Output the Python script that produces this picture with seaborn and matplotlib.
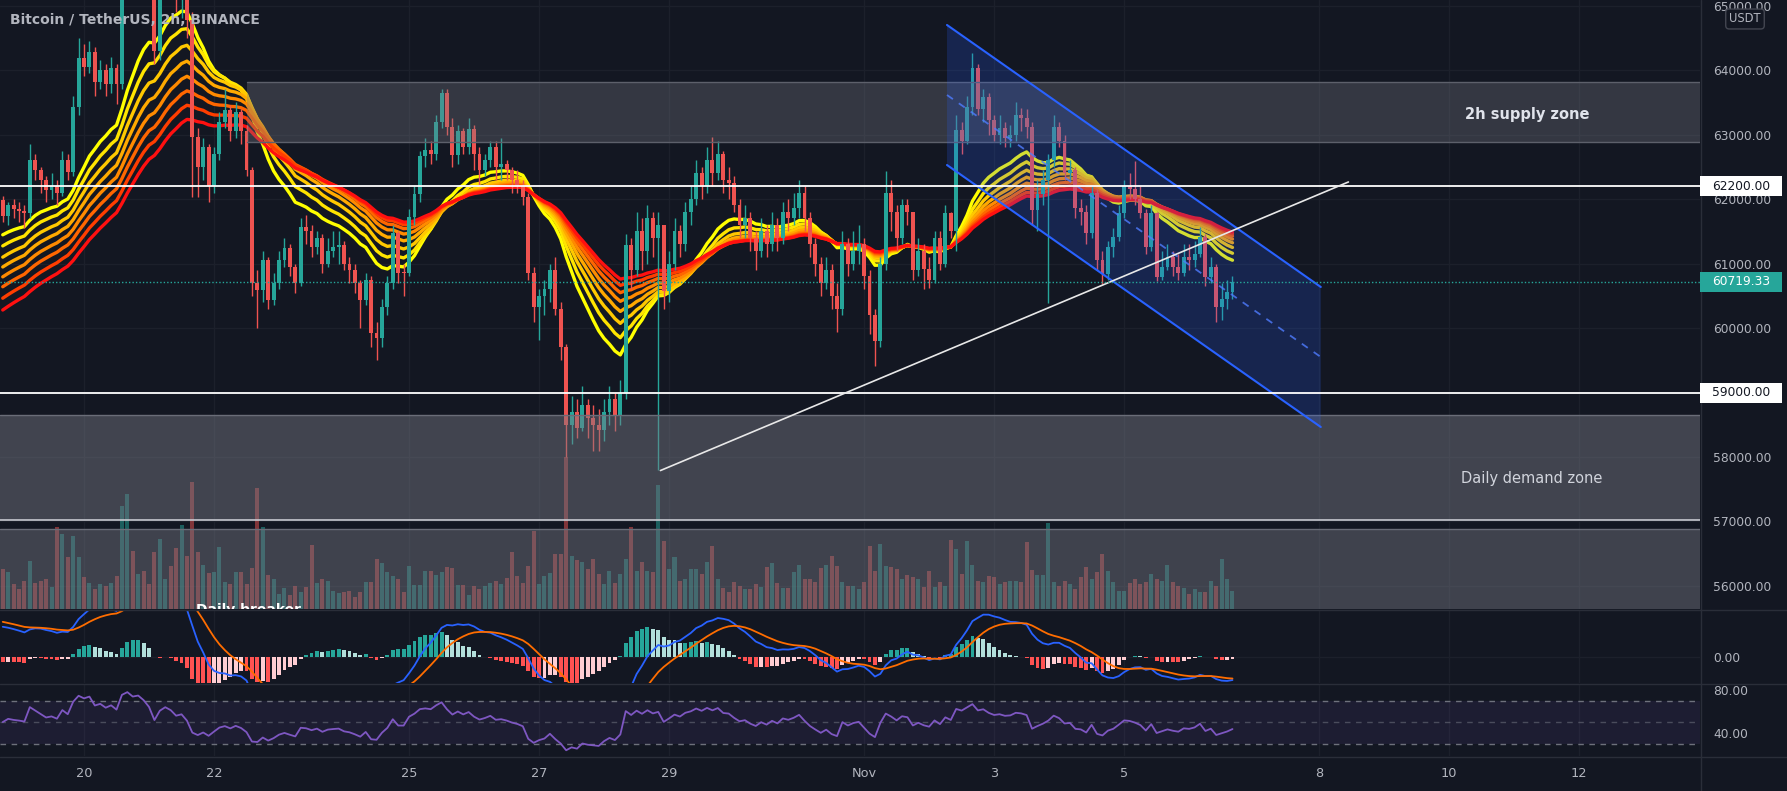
import numpy as np
import pandas as pd
import matplotlib
matplotlib.use("Agg")
import matplotlib.pyplot as plt
import matplotlib.transforms as mtransforms
from matplotlib.patches import Rectangle, Polygon
from matplotlib.lines import Line2D
import seaborn as sns

# ---------------- data (BTCUSDT 2h candles) ----------------
bar_start = "2021-10-18 18:00"
first_open = 61980
closes = [61730, 61900, 61850, 61820, 61780, 62600, 62450, 62300, 62140, 62200, 62100, 62600, 62420, 63430, 64180,
          64050, 64285, 63820, 64000, 63790, 64025, 63790, 65800, 66400, 66100, 66300, 65990,
          65500, 64300, 65600, 66200, 65900, 65300, 65500, 64775, 62965, 62500, 62810, 62200,
          62700, 63200, 63380, 63050, 63350, 63050, 62450, 60690, 60590, 61055, 60435, 60690,
          61055, 61235, 60950, 60690, 61570, 61500, 61250, 61400, 61000, 61200, 61250, 61286,
          61000, 60900, 60690, 60435, 60745, 59920, 59850, 60330, 60700, 61470, 60855, 60852,
          61725, 62085, 62660, 62760, 62700, 63200, 63640, 63120, 62685, 63050, 62810, 63078,
          62700, 62450, 62600, 62810, 62500, 62550, 62450, 62300, 62200, 62035, 60855, 60330,
          60500, 60600, 60900, 60300, 59700, 58500, 58700, 58450, 58800, 58600, 58500, 58413,
          58700, 58900, 58650, 59000, 61280, 60900, 61500, 61200, 61700, 61400, 61600, 60575,
          61000, 61500, 61300, 61800, 62000, 62400, 62200, 62600, 62400, 62700, 62300, 62253,
          61900, 61600, 61700, 61400, 61200, 61500, 61300, 61600, 61400, 61800, 61700, 61859,
          62100, 61700, 61300, 61000, 60700, 60900, 60500, 60300, 61300, 61000, 61200, 61299,
          60800, 60200, 59800, 61000, 62100, 61800, 61400, 61900, 61800, 60900, 61200, 60911,
          60750, 61400, 61000, 61780, 61500, 63070, 62900, 63430, 64030, 63400, 63580, 63219,
          63000, 63100, 62950, 63000, 63300, 63250, 63120, 61830, 62080, 62300, 62600, 63120,
          62900, 62400, 62450, 61860, 61800, 61470, 62100, 61050, 60840, 61250, 61410, 61780,
          62200, 62150, 62000, 61780, 61250, 61780, 60790, 60950, 61100, 60950, 60850, 61100,
          61050, 61150, 61410, 60790, 60950, 60330, 60450, 60560, 60719.33]
highs = [62050, 61950, 62000, 61950, 61900, 62860, 62700, 62500, 62350, 62400, 62300, 62750, 62700, 63600, 64500,
         64400, 64450, 64350, 64150, 64100, 64200, 64100, 66300, 67000, 66600, 66700, 66500,
         66300, 65700, 65900, 66500, 66639, 66100, 65900, 65700, 64900, 63100, 62950, 62850,
         62800, 63350, 63700, 63450, 63500, 63400, 63150, 62500, 60900, 61200, 61100, 60850,
         61200, 61400, 61300, 61000, 61700, 61750, 61600, 61500, 61450, 61400, 61500, 61500,
         61350, 61100, 61000, 60750, 60850, 60800, 60100, 60450, 60800, 61600, 61500, 61000,
         61850, 62200, 62750, 62950, 62900, 63300, 63710, 63700, 63250, 63150, 63100, 63250,
         63150, 62800, 62700, 62900, 62900, 62950, 62600, 62500, 62450, 62300, 62100, 60950,
         60600, 60750, 61000, 61100, 60400, 59750, 58950, 58900, 59100, 58900, 58800, 58750,
         58900, 59100, 59000, 59200, 61450, 61400, 61800, 61700, 61900, 61800, 61800, 61600,
         61200, 61700, 61600, 61950, 62200, 62600, 62500, 62800, 62963, 62900, 62750, 62500,
         62359, 62000, 61900, 61800, 61500, 61700, 61600, 61800, 61700, 61950, 62000, 62100,
         62300, 62200, 61800, 61400, 61100, 61100, 61000, 60700, 61500, 61400, 61500, 61600,
         61400, 60900, 60300, 61100, 62437, 62300, 61900, 62000, 62000, 61800, 61400, 61300,
         61100, 61500, 61500, 61900, 61800, 63300, 63200, 63600, 64270, 64100, 63700, 63650,
         63300, 63300, 63200, 63150, 63500, 63410, 63400, 63200, 62300, 62450, 62700, 63300,
         63200, 63000, 62600, 62500, 62000, 61900, 62200, 62150, 61200, 61350, 61550, 61900,
         62300, 62400, 62595, 62200, 61850, 61900, 61800, 61200, 61300, 61200, 61150, 61300,
         61300, 61350, 61560, 61450, 61100, 61000, 60700, 60750, 60800]
lows = [61650, 61600, 61700, 61650, 61550, 61700, 62300, 62100, 61950, 62000, 61900, 62050, 62300, 62350, 63300,
        63900, 63950, 63600, 63700, 63600, 63650, 63480, 63700, 65600, 65700, 65900, 65600,
        65100, 64100, 64150, 65400, 65500, 64900, 64800, 64500, 62035, 62030, 62300, 61950,
        62100, 62600, 63100, 62900, 62950, 62850, 62350, 60500, 60000, 60400, 60300, 60350,
        60600, 60950, 60800, 60550, 60650, 61300, 61100, 61150, 60850, 60950, 61100, 61000,
        60900, 60700, 60550, 60000, 60350, 59700, 59510, 59700, 60200, 60600, 60700, 60500,
        60800, 61600, 61950, 62500, 62550, 62600, 63100, 63000, 62500, 62550, 62700, 62700,
        62450, 62200, 62350, 62500, 62300, 62300, 62300, 62100, 62100, 61900, 60750, 60100,
        59817, 60200, 60400, 60200, 59500, 58000, 58200, 58300, 58400, 58300, 58100, 58100,
        58250, 58500, 58400, 58500, 58900, 60600, 60800, 60900, 61000, 61100, 57800, 60300,
        60400, 60900, 61100, 61200, 61600, 61900, 62000, 62100, 62200, 62300, 62100, 62000,
        61800, 61400, 61400, 61200, 60900, 61100, 61100, 61200, 61200, 61300, 61500, 61600,
        61700, 61500, 61100, 60800, 60500, 60600, 60300, 59945, 60200, 60800, 60900, 61000,
        60600, 59900, 59405, 59700, 60900, 61500, 61200, 61300, 61600, 60750, 60800, 60600,
        60624, 60700, 60900, 60950, 61400, 61200, 62700, 62850, 63300, 63300, 63200, 63000,
        62900, 62850, 62800, 62800, 62900, 63050, 62950, 61600, 61500, 61900, 60382, 62500,
        62800, 62300, 62300, 61700, 61600, 61300, 61400, 60900, 60677, 60750, 61100, 61350,
        61700, 62000, 61900, 61700, 61150, 61200, 60721, 60750, 60900, 60800, 60750, 60800,
        60900, 60950, 61100, 60650, 60700, 60100, 60126, 60300, 60450]
volumes = [4800, 4400, 3000, 2400, 3400, 5800, 3120, 3400, 3600, 2600,
           9800, 9000, 6200, 8720, 6200, 3880, 3120, 2400, 3000, 2800,
           3120, 4000, 12400, 13800, 6920, 4200, 4520, 3000, 6800, 8400,
           3600, 5200, 7320, 10080, 6400, 15200, 6800, 5280, 4320, 4400,
           7400, 3200, 3000, 4400, 4400, 2960, 4920, 14480, 9800, 4120,
           3600, 1800, 2520, 1680, 2800, 2000, 2600, 7680, 3080, 3600,
           3320, 2200, 1880, 2000, 2120, 1400, 2000, 3200, 3200,
           6000, 5520, 4400, 4000, 3600, 2000, 5200, 2920, 2920, 4520,
           4520, 4120, 4400, 5000, 4880, 2920, 2920, 1680, 2800, 2400,
           2800, 3120, 3320, 2960, 3680, 6800, 4000, 3120, 5200, 9400,
           3000, 4000, 4320, 6600, 6600, 18200, 6400, 5920, 5600, 4800,
           6000, 4200, 3000, 4600, 3120, 4200, 6000, 9800, 4600, 5600,
           4600, 4400, 14880, 8120, 4800, 6200, 3400, 3600, 4800, 4800,
           4200, 5600, 7600, 3600, 2480, 2080, 3200, 2800, 2400, 2400,
           3000, 2600, 5000, 5520, 3120, 2480, 2480, 4400, 5320, 3600,
           3600, 3200, 4920, 5320, 6400, 5200, 3280, 2720, 2720, 2400,
           3200, 7600, 4600, 7800, 5200, 5000, 4800, 3600, 4080, 3880,
           3600, 2600, 4600, 2600, 3200, 2800, 8320, 7200, 4200, 8200,
           5280, 3400, 3280, 4000, 3880, 3000, 3280, 3400, 3400, 3280,
           8000, 4720, 4080, 4080, 10320, 3280, 2800, 3400, 3000, 2400,
           3800, 5000, 3600, 4400, 6600, 4600, 3280, 2200, 2200, 3080,
           3600, 3000, 3200, 4200, 3600, 3320, 5280, 3200, 2800, 2520,
           1800, 2400, 2000, 2080, 3400, 2800, 6000, 3600, 2200]

ribbon_periods = [20, 25, 30, 35, 40, 45, 50, 55]
ribbon_seed = [61415, 61235, 61055, 60900, 60745, 60590, 60410, 60225]
ribbon_colors = ['#ffff00', '#ffe400', '#ffc800', '#ffaa00', '#ff8a00', '#ff6600', '#ff3d00', '#ff1010']
macd_seed_fast, macd_seed_slow, macd_seed_signal = 61660, 61200, 520
rsi_seed_gain, rsi_seed_loss = 110.0, 90.0

price_ticks = [56000, 57000, 58000, 59000, 60000, 61000, 62000, 63000, 64000, 65000]
date_ticks = ['2021-10-20', '2021-10-22', '2021-10-25', '2021-10-27', '2021-10-29', '2021-11-01',
              '2021-11-03', '2021-11-05', '2021-11-08', '2021-11-10', '2021-11-12']
date_labels = ['20', '22', '25', '27', '29', 'Nov', '3', '5', '8', '10', '12']

levels = [62200, 59000]
last_price = 60719.33
supply_zone = (45.1, 62880, 63820)          # start bar, bottom, top
demand_zone = (57020, 58650)
breaker_top = 56880
channel_x = (174.3, 243.3)
channel_upper = (64698, 60636)
channel_lower = (62527, 58465)
trend_x = (121.4, 248.4)
trend_y = (57790, 62264)

# ---------------- style ----------------
BG = '#131722'
GRID = '#1c202b'
TXT = '#b2b5be'
UP = '#26a69a'
DN = '#ef5350'
sns.set_theme(style="dark", rc={"axes.facecolor": BG, "figure.facecolor": BG})
plt.rcParams['font.family'] = ['DejaVu Sans']

n = len(closes)
assert len(highs) == n and len(lows) == n and len(volumes) == n
x = np.arange(n)
opens = np.array([first_open] + closes[:-1], dtype=float)
c = np.array(closes, dtype=float)
h = np.array(highs, dtype=float)
l = np.array(lows, dtype=float)
v = np.array(volumes, dtype=float)
up = c >= opens

def ema(vals, period, seed):
    a = 2.0 / (period + 1)
    out, e = [], seed
    for val in vals:
        e = e + a * (val - e)
        out.append(e)
    return np.array(out)

W, H = 1787, 791
fig = plt.figure(figsize=(W / 100, H / 100), dpi=100)
fig.patch.set_facecolor(BG)

def panel(top, bottom):
    a = fig.add_axes([0, 1 - bottom / H, 1700 / W, (bottom - top) / H])
    a.set_facecolor(BG)
    for s in a.spines.values():
        s.set_visible(False)
    return a

ax = panel(0, 609)
axm = panel(610, 683)
axr = panel(684, 756)

t0 = pd.Timestamp(bar_start)
date_pos = [(pd.Timestamp(d) - t0) / pd.Timedelta(hours=2) for d in date_ticks]
XL = (-0.508, 313.3)
for a in (ax, axm, axr):
    a.set_xlim(*XL)
    a.set_xticks(date_pos)
    a.grid(True, axis='x', color=GRID, lw=1)
    a.tick_params(axis='x', length=0, labelbottom=False)
    a.yaxis.tick_right()
    a.tick_params(axis='y', length=0, pad=9.4, labelsize=8.8, labelcolor=TXT)

# ---------------- main panel ----------------
ax.set_ylim(55643.4, 65085.3)
ax.set_yticks(price_ticks)
ax.set_yticklabels([f'{p:.2f}' for p in price_ticks])
ax.grid(True, axis='y', color=GRID, lw=1)

blend = mtransforms.blended_transform_factory(ax.transData, ax.transAxes)
vol_cols = np.where(up, UP, DN)
ax.bar(x, v / 73080.0, bottom=0, width=0.74, color=vol_cols, alpha=0.5, transform=blend,
       zorder=1, edgecolor='none', linewidth=0)

for per, seed, col in zip(ribbon_periods, ribbon_seed, ribbon_colors):
    sns.lineplot(x=x, y=ema(c, per, seed), ax=ax, color=col, lw=2.4, zorder=2, legend=False)

cols = np.where(up, UP, DN)
ax.vlines(x, l, h, colors=cols, lw=1, zorder=3)
body_b = np.minimum(opens, c)
body_h = np.maximum(np.abs(c - opens), 12)
ax.bar(x, body_h, bottom=body_b, width=0.72, color=cols, zorder=3.1, edgecolor='none', linewidth=0)

# zones
ax.add_patch(Rectangle((supply_zone[0], supply_zone[1]), 400, supply_zone[2] - supply_zone[1],
                       fc='#787b86', alpha=0.33, ec='none', zorder=4))
for yy in supply_zone[1:]:
    ax.plot([supply_zone[0], 400], [yy, yy], color='#5d606b', lw=1, zorder=4.1)
ax.add_patch(Rectangle((-5, demand_zone[0]), 400, demand_zone[1] - demand_zone[0],
                       fc='#787b86', alpha=0.46, ec='none', zorder=4))
ax.axhline(demand_zone[1], color='#6a6d78', lw=1, zorder=4.1)
ax.axhline(demand_zone[0], color='#c7c9d0', lw=1.2, zorder=4.1)
ax.add_patch(Rectangle((-5, 50000), 400, breaker_top - 50000,
                       fc='#787b86', alpha=0.44, ec='none', zorder=4))
ax.axhline(breaker_top, color='#6a6d78', lw=1, zorder=4.1)

# channel
poly = Polygon([(channel_x[0], channel_upper[0]), (channel_x[1], channel_upper[1]),
                (channel_x[1], channel_lower[1]), (channel_x[0], channel_lower[0])],
               closed=True, fc='#2962ff', alpha=0.2, ec='none', zorder=4.5)
ax.add_patch(poly)
ax.plot(channel_x, channel_upper, color='#2962ff', lw=1.5, zorder=6)
ax.plot(channel_x, channel_lower, color='#2962ff', lw=1.5, zorder=6)
mid = [(channel_upper[0] + channel_lower[0]) / 2, (channel_upper[1] + channel_lower[1]) / 2]
ax.plot(channel_x, mid, color='#4f7cff', lw=1.3, ls=(0, (4, 4)), alpha=0.8, zorder=6)

# lines
for lv in levels:
    ax.axhline(lv, color='white', lw=1.3, zorder=6)
ax.plot(trend_x, trend_y, color='#e8e8e8', lw=1.2, zorder=6)
ax.axhline(last_price, color=UP, lw=1, ls=(0, (1, 1.5)), zorder=6)

ax.text(281.4, 63310, '2h supply zone', color='#e0e3eb', fontsize=10.5, fontweight='bold',
        ha='center', va='center', zorder=8)
ax.text(282.3, 57660, 'Daily demand zone', color='#d1d4dc', fontsize=10.5,
        ha='center', va='center', zorder=8)
ax.text(45.3, 55736, 'Daily breaker', color='white', fontsize=10, fontweight='bold',
        ha='center', va='top', zorder=8, clip_on=True)

# ---------------- MACD panel ----------------
fast = ema(c, 12, macd_seed_fast)
slow = ema(c, 26, macd_seed_slow)
macd = fast - slow
signal = ema(macd, 9, macd_seed_signal)
hist = macd - signal
prev = np.concatenate([[macd_seed_fast - macd_seed_slow - macd_seed_signal], hist[:-1]])
hcols = np.where(hist >= 0, np.where(hist > prev, '#26a69a', '#b2dfdb'),
                 np.where(hist < prev, '#ff5252', '#ffcdd2'))
axm.set_ylim(-371, 671)
axm.bar(x, hist, width=0.72, color=hcols, zorder=2, edgecolor='none', linewidth=0)
sns.lineplot(x=x, y=macd, ax=axm, color='#2962ff', lw=1.3, zorder=3, legend=False)
sns.lineplot(x=x, y=signal, ax=axm, color='#ff6d00', lw=1.3, zorder=3, legend=False)
axm.set_yticks([0])
axm.set_yticklabels(['0.00'])
axm.grid(True, axis='y', color=GRID, lw=1)

# ---------------- RSI panel ----------------
ag, al = rsi_seed_gain, rsi_seed_loss
rsi = []
prevc = first_open
for val in c:
    d = val - prevc
    ag = (ag * 13 + max(d, 0)) / 14
    al = (al * 13 + max(-d, 0)) / 14
    rsi.append(100 - 100 / (1 + ag / al))
    prevc = val
rsi = np.array(rsi)
axr.set_ylim(18.6, 85.6)
axr.axhspan(30, 70, color='#7e57c2', alpha=0.1, lw=0, zorder=1)
for lvl, al_ in ((70, 0.9), (50, 0.5), (30, 0.9)):
    axr.axhline(lvl, color='#787b86', lw=1, ls=(0, (4, 4)), alpha=al_, zorder=1.5)
sns.lineplot(x=x, y=rsi, ax=axr, color='#7e57c2', lw=1.3, zorder=3, legend=False)
axr.set_yticks([40, 80])
axr.set_yticklabels(['40.00', '80.00'])
axr.grid(False, axis='y')
axr.tick_params(axis='x', labelbottom=True, pad=8, labelsize=9.3, labelcolor=TXT)
axr.set_xticklabels(date_labels)
for a in (ax, axm, axr):
    a.set_xlabel('')
    a.set_ylabel('')

# ---------------- separators and axis tags ----------------
for yy in (609.5, 683.5, 756.5):
    fig.add_artist(Line2D([0, 1], [1 - yy / H] * 2, transform=fig.transFigure, color='#2a2e39', lw=1))
fig.add_artist(Line2D([1700.5 / W] * 2, [0, 1], transform=fig.transFigure, color='#2a2e39', lw=1))

def axis_tag(value, text, fc, tc):
    ydisp = ax.transData.transform((0, value))[1]
    fig.add_artist(Rectangle((1700 / W, (ydisp - 10) / H), 82 / W, 20 / H, transform=fig.transFigure,
                             fc=fc, ec='none', zorder=10))
    fig.text(1712 / W, ydisp / H, text, color=tc, fontsize=8.8, ha='left', va='center', zorder=11)

axis_tag(62200, '62200.00', 'white', '#131722')
axis_tag(59000, '59000.00', 'white', '#131722')
axis_tag(last_price, f'{last_price:.2f}', UP, 'white')

fig.text(1745 / W, 1 - 19 / H, 'USDT', color=TXT, fontsize=8.3, ha='center', va='center',
         bbox=dict(boxstyle='round,pad=0.3', fc=BG, ec='#434651', lw=1), zorder=12)
fig.text(10 / W, 1 - 20 / H, 'Bitcoin / TetherUS, 2h, BINANCE', color=TXT, fontsize=10,
         fontweight='bold', ha='left', va='center', zorder=12)

fig.savefig('out.png', dpi=100, facecolor=BG)
